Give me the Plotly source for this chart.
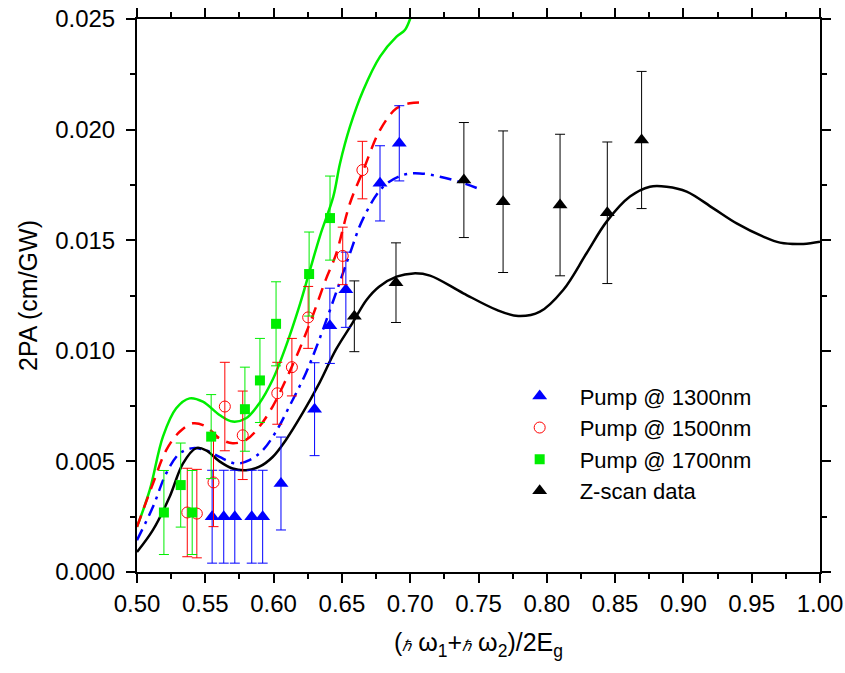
import plotly.graph_objects as go

pump1300_x = [0.555, 0.5635, 0.5716, 0.584, 0.592, 0.6054, 0.630, 0.6412, 0.6529, 0.6779, 0.692]
pump1300_y = [0.0025, 0.0025, 0.0025, 0.0025, 0.0025, 0.0040, 0.00736, 0.01113, 0.01276, 0.01757, 0.01938]
pump1300_err = [0.0021, 0.0021, 0.0021, 0.0021, 0.0021, 0.0021, 0.0021, 0.0017, 0.0017, 0.0017, 0.0017]

pump1500_x = [0.5368, 0.5438, 0.556, 0.5643, 0.5774, 0.6027, 0.6134, 0.6253, 0.6506, 0.665]
pump1500_y = [0.00269, 0.00264, 0.00405, 0.00748, 0.00618, 0.00808, 0.00926, 0.01151, 0.01429, 0.01817]
pump1500_err = [0.002, 0.002, 0.002, 0.002, 0.002, 0.0014, 0.0013, 0.0014, 0.0013, 0.0013]

pump1700_x = [0.5197, 0.532, 0.5404, 0.5543, 0.579, 0.590, 0.6018, 0.626, 0.6413]
pump1700_y = [0.00269, 0.00393, 0.00269, 0.00612, 0.00736, 0.00866, 0.01122, 0.01347, 0.0160]
pump1700_err = [0.0019, 0.0019, 0.0019, 0.0019, 0.0019, 0.0019, 0.0019, 0.0019, 0.0019]

zscan_x = [0.6591, 0.6896, 0.7393, 0.768, 0.8097, 0.8443, 0.8694]
zscan_y = [0.01156, 0.01308, 0.01772, 0.01674, 0.01659, 0.01624, 0.01953]
zscan_err = [0.0016, 0.0018, 0.0026, 0.0032, 0.0032, 0.0032, 0.0031]

# theory curves
black_cx = [0.50, 0.5117, 0.5239, 0.5336, 0.5433, 0.5506, 0.5604, 0.570, 0.5798, 0.5896, 0.5993, 0.609,
            0.6212, 0.6334, 0.6456, 0.6577, 0.668, 0.6772, 0.690, 0.7023, 0.7145, 0.7389, 0.7633, 0.7791,
            0.795, 0.812, 0.8291, 0.8438, 0.8609, 0.8755, 0.8877, 0.9024, 0.9219, 0.939, 0.9585, 0.9707,
            0.9878, 1.0]
black_cy = [0.0009, 0.0019, 0.0034, 0.0049, 0.0056, 0.0055, 0.0050, 0.00468, 0.0046, 0.00476, 0.0052, 0.00597,
            0.00718, 0.00853, 0.01005, 0.01125, 0.0123, 0.0129, 0.01335, 0.0135, 0.0134, 0.0126, 0.01185, 0.01157,
            0.01177, 0.01275, 0.01441, 0.01584, 0.01697, 0.01742, 0.01742, 0.0172, 0.01644, 0.01576, 0.01516, 0.01489,
            0.01483, 0.01493]

blue_cx = [0.50, 0.5117, 0.5214, 0.5312, 0.5409, 0.5506, 0.5604, 0.5725, 0.5823, 0.592, 0.6017, 0.6115,
           0.6236, 0.6334, 0.6456, 0.6553, 0.6657, 0.6803, 0.6949, 0.7071, 0.7218, 0.7389, 0.7511]
blue_cy = [0.00144, 0.00295, 0.00446, 0.00536, 0.0056, 0.0055, 0.0052, 0.0049, 0.00506, 0.0055, 0.00634, 0.00748,
           0.00899, 0.0105, 0.0126, 0.0143, 0.0160, 0.01742, 0.01795, 0.01802, 0.01787, 0.01758, 0.0173]

red_cx = [0.50, 0.5117, 0.5214, 0.5312, 0.5409, 0.5506, 0.5604, 0.570, 0.5798, 0.5896, 0.5993, 0.609,
          0.6188, 0.6285, 0.6382, 0.6456, 0.6559, 0.6657, 0.6779, 0.690, 0.6998, 0.712]
red_cy = [0.00204, 0.0040, 0.00551, 0.00634, 0.00672, 0.00657, 0.00604, 0.00582, 0.00597, 0.00657, 0.00748, 0.00869,
          0.01005, 0.01156, 0.01322, 0.01435, 0.01667, 0.01817, 0.01998, 0.02096, 0.02119, 0.02122]

green_cx = [0.50, 0.5093, 0.519, 0.5287, 0.5385, 0.5482, 0.5604, 0.570, 0.5798, 0.5896, 0.5993, 0.609,
            0.6188, 0.626, 0.6340, 0.6437, 0.6486, 0.6559, 0.6657, 0.6779, 0.690, 0.6961, 0.701]
green_cy = [0.00204, 0.0037, 0.00612, 0.0074, 0.00785, 0.0077, 0.0071, 0.0068, 0.00695, 0.00763, 0.00869, 0.0102,
            0.01201, 0.01352, 0.0152, 0.01697, 0.01847, 0.02013, 0.02179, 0.0233, 0.0242, 0.0245, 0.0252]

font = "Arial, Liberation Sans, sans-serif"

fig = go.Figure()

# curves first so the markers sit on top
fig.add_trace(go.Scatter(x=green_cx, y=green_cy, mode="lines", showlegend=False,
                         line=dict(color="#00ee00", width=2.5, shape="spline")))
fig.add_trace(go.Scatter(x=red_cx, y=red_cy, mode="lines", showlegend=False,
                         line=dict(color="#ff0000", width=2.5, dash="12px,8px", shape="spline")))
fig.add_trace(go.Scatter(x=blue_cx, y=blue_cy, mode="lines", showlegend=False,
                         line=dict(color="#0000ff", width=2.5, dash="12px,6px,3px,6px", shape="spline")))
fig.add_trace(go.Scatter(x=black_cx, y=black_cy, mode="lines", showlegend=False,
                         line=dict(color="#000000", width=2.5, shape="spline")))

def err(vals, col):
    return dict(type="data", array=vals, visible=True, color=col, thickness=1, width=5)

fig.add_trace(go.Scatter(x=pump1300_x, y=pump1300_y, mode="markers", name="Pump @ 1300nm",
                         legendgroup="a", error_y=err(pump1300_err, "#0000ff"),
                         marker=dict(symbol="triangle-up", size=13, color="#0000ff")))
fig.add_trace(go.Scatter(x=pump1500_x, y=pump1500_y, mode="markers", name="Pump @ 1500nm",
                         legendgroup="b", error_y=err(pump1500_err, "#ff0000"),
                         marker=dict(symbol="circle-open", size=11, color="#ff0000", line=dict(width=1))))
fig.add_trace(go.Scatter(x=pump1700_x, y=pump1700_y, mode="markers", name="Pump @ 1700nm",
                         legendgroup="c", error_y=err(pump1700_err, "#00ee00"),
                         marker=dict(symbol="square", size=10, color="#00ee00")))
fig.add_trace(go.Scatter(x=zscan_x, y=zscan_y, mode="markers", name="Z-scan data",
                         legendgroup="d", error_y=err(zscan_err, "#000000"),
                         marker=dict(symbol="triangle-up", size=13, color="#000000")))

axis_common = dict(showline=True, linecolor="black", linewidth=2, mirror="ticks",
                   ticks="outside", ticklen=9, tickwidth=1.5, tickcolor="black",
                   showgrid=False, zeroline=False, automargin=False, ticklabeloverflow="allow",
                   tickfont=dict(family=font, size=24, color="black"))

fig.update_xaxes(range=[0.5, 1.0], dtick=0.05, tickformat=".2f",
                 minor=dict(dtick=0.025, ticks="outside", ticklen=5, tickwidth=1.5, tickcolor="black"),
                 title=dict(text="(<span style='font-size:15px'><i>ℏ</i></span> ω<sub>1</sub>+"
                                 "<span style='font-size:15px'><i>ℏ</i></span> ω<sub>2</sub>)/2E<sub>g</sub>",
                            font=dict(family=font, size=25, color="black"), standoff=18),
                 **axis_common)
fig.update_yaxes(range=[0, 0.025], dtick=0.005, tickformat=".3f", ticklabelstandoff=6,
                 minor=dict(dtick=0.0025, ticks="outside", ticklen=5, tickwidth=1.5, tickcolor="black"),
                 title=dict(text="2PA (cm/GW)", font=dict(family=font, size=25, color="black"), standoff=10),
                 **axis_common)

fig.update_layout(
    width=845, height=673,
    margin=dict(l=137, r=25, t=19, b=101),
    paper_bgcolor="white", plot_bgcolor="white",
    font=dict(family=font, color="black"),
    legend=dict(x=0.531, y=0.356, xanchor="left", yanchor="top",
                bgcolor="rgba(0,0,0,0)", borderwidth=0, tracegroupgap=0,
                itemwidth=70,
                font=dict(family=font, size=22, color="black")),
)

# drop the default page margin so the figure sits at the window's corner
fig.write_html("out.html", config={"displayModeBar": False},
               post_script="document.body.style.margin='0';")
